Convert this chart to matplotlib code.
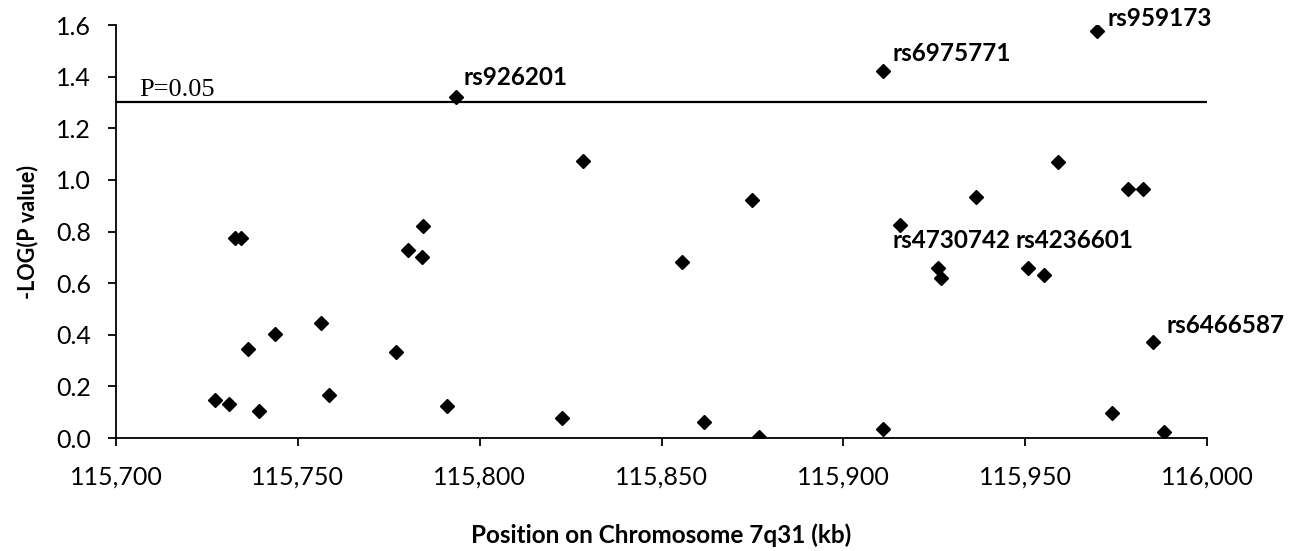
import matplotlib
matplotlib.use("Agg")
import matplotlib.pyplot as plt

# SNP positions (kb) on chromosome 7q31 and -log10(P)
position_kb = [115727.2, 115731.1, 115732.7, 115734.4, 115736.3, 115739.3,
               115743.7, 115756.4, 115758.5, 115777.0, 115780.3, 115784.1,
               115784.4, 115791.0, 115793.5, 115822.6, 115828.4, 115855.6,
               115861.7, 115874.9, 115876.8, 115910.9, 115910.9, 115915.6,
               115926.0, 115926.8, 115936.5, 115950.8, 115955.1, 115959.0,
               115969.7, 115973.9, 115978.3, 115982.4, 115985.1, 115988.2]
neg_log_p = [0.147, 0.132, 0.775, 0.775, 0.345, 0.105,
             0.403, 0.446, 0.167, 0.333, 0.729, 0.703,
             0.822, 0.124, 1.320, 0.077, 1.074, 0.681,
             0.062, 0.922, 0.004, 1.422, 0.035, 0.826,
             0.660, 0.619, 0.935, 0.658, 0.632, 1.068,
             1.575, 0.096, 0.964, 0.964, 0.371, 0.025]

# labelled SNPs: name, index of point, text offset in points (baseline)
snp_names = ["rs926201", "rs6975771", "rs959173", "rs4730742", "rs4236601", "rs6466587"]
snp_index = [14, 21, 30, 24, 27, 34]
snp_offset = [(5, 8.6), (7.2, 7.2), (7.9, 3.6), (-33, 14.4), (-9.4, 14.4), (10, 6.5)]

threshold = 1.301  # -log10(0.05)
x_ticks = [115700, 115750, 115800, 115850, 115900, 115950, 116000]
y_ticks = [0.0, 0.2, 0.4, 0.6, 0.8, 1.0, 1.2, 1.4, 1.6]

sans = ["Lato", "DejaVu Sans"]
plt.rcParams["font.family"] = sans

fig = plt.figure(figsize=(12.98, 5.51), dpi=100)
ax = fig.add_axes([0.0894, 0.205, 0.8405, 0.7496])

ax.plot(position_kb, neg_log_p, linestyle="none", marker="D",
        markersize=7, color="black")

ax.axhline(threshold, color="black", linewidth=1.6)
ax.text(115706.5, threshold + 0.025, "P=0.05", family="Liberation Serif",
        fontsize=19, va="baseline", ha="left")

for name, i, off in zip(snp_names, snp_index, snp_offset):
    ax.annotate(name, (position_kb[i], neg_log_p[i]), xytext=off,
                textcoords="offset points", fontsize=17.5, fontweight="bold",
                ha="left", va="baseline")

ax.set_xlim(115700, 116000)
ax.set_ylim(0, 1.6)
ax.set_xticks(x_ticks)
ax.set_xticklabels([f"{t:,}" for t in x_ticks])
ax.set_yticks(y_ticks)
ax.set_yticklabels([f"{t:.1f}" for t in y_ticks])

for s in ["top", "right"]:
    ax.spines[s].set_visible(False)
for s in ["left", "bottom"]:
    ax.spines[s].set_linewidth(1.3)

ax.tick_params(axis="both", direction="out", length=6, width=1.3,
               labelsize=18)
ax.tick_params(axis="x", pad=14)
ax.tick_params(axis="y", pad=12)

ax.set_xlabel("Position on Chromosome 7q31 (kb)", fontsize=17.5,
              fontweight="bold", labelpad=25)
ax.set_ylabel("-LOG(P value)", fontsize=15.5, fontweight="bold", labelpad=13)

fig.savefig("out.png", dpi=100)
